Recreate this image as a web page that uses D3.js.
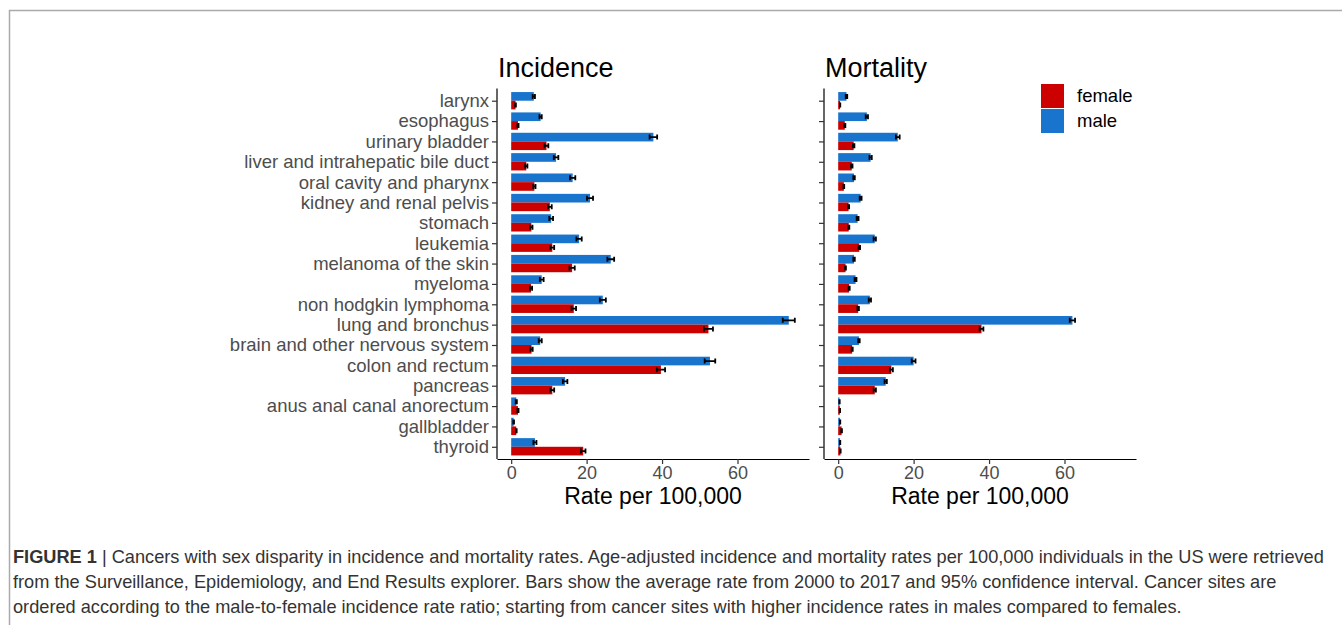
<!DOCTYPE html>
<html>
<head>
<meta charset="utf-8">
<script src="https://cdn.jsdelivr.net/npm/d3@7"></script>
<style>
  body { margin: 0; background: #fff; }
  svg { display: block; font-family: "Liberation Sans", Arial, sans-serif; }
</style>
</head>
<body>
<script>
// cancer sites, top to bottom
const sites = [
  'larynx', 'esophagus', 'urinary bladder', 'liver and intrahepatic bile duct',
  'oral cavity and pharynx', 'kidney and renal pelvis', 'stomach', 'leukemia',
  'melanoma of the skin', 'myeloma', 'non hodgkin lymphoma', 'lung and bronchus',
  'brain and other nervous system', 'colon and rectum', 'pancreas',
  'anus anal canal anorectum', 'gallbladder', 'thyroid'
];

// rates per 100,000 (average 2000-2017) and 95% CI half widths
const incMale = [6.0, 7.8, 37.7, 11.9, 16.3, 20.9, 10.6, 18.0, 26.4, 8.1, 24.3, 73.6, 7.7, 52.7, 14.3, 1.35, 0.65, 6.3];
const incMaleCi = [0.3, 0.3, 1.0, 0.6, 0.7, 0.8, 0.5, 0.7, 0.9, 0.5, 0.8, 1.6, 0.4, 1.4, 0.6, 0.15, 0.1, 0.4];
const incFemale = [1.15, 1.8, 9.35, 4.0, 6.15, 10.25, 5.35, 10.9, 16.15, 5.25, 16.6, 52.3, 5.4, 39.7, 10.9, 1.8, 1.35, 19.1];
const incFemaleCi = [0.1, 0.15, 0.5, 0.3, 0.3, 0.5, 0.3, 0.5, 0.7, 0.3, 0.6, 1.2, 0.3, 1.1, 0.5, 0.15, 0.1, 0.6];

const morMale = [2.2, 7.6, 15.8, 8.6, 4.2, 5.95, 5.15, 9.7, 4.2, 4.6, 8.4, 62.1, 5.5, 20.0, 12.6, 0.35, 0.5, 0.5];
const morMaleCi = [0.2, 0.3, 0.5, 0.3, 0.2, 0.25, 0.25, 0.3, 0.2, 0.25, 0.3, 0.7, 0.2, 0.5, 0.3, 0.05, 0.05, 0.05];
const morFemale = [0.5, 1.75, 4.1, 3.6, 1.5, 2.75, 2.8, 5.6, 1.95, 2.9, 5.3, 38.0, 3.7, 14.1, 9.7, 0.45, 0.9, 0.6];
const morFemaleCi = [0.05, 0.15, 0.2, 0.2, 0.1, 0.15, 0.15, 0.2, 0.1, 0.15, 0.2, 0.5, 0.15, 0.4, 0.3, 0.05, 0.1, 0.05];

const xTicks = [0, 20, 40, 60];
const sexes = ['female', 'male'];
const sexColor = { female: '#cd0000', male: '#1874cd' };

const panels = [
  { title: 'Incidence', left: 497, male: incMale, maleCi: incMaleCi, female: incFemale, femaleCi: incFemaleCi },
  { title: 'Mortality', left: 824, male: morMale, maleCi: morMaleCi, female: morFemale, femaleCi: morFemaleCi }
];

const W = 1342, H = 625;
const panelW = 312, plotTop = 88.5, plotBottom = 459;

const svg = d3.select('body').append('svg')
  .attr('width', W)
  .attr('height', H);

// frame
svg.append('path')
  .attr('d', `M9.5,${H} L9.5,10.5 L${W},10.5`)
  .attr('fill', 'none')
  .attr('stroke', '#aaa')
  .attr('stroke-width', 1.5);

// shared scales (ggplot facets with 5% / 0.6 expansion)
const maxVal = d3.max(panels, p => d3.max(p.male.map((v, i) => v + p.maleCi[i])));
const x = d3.scaleLinear().domain([-0.05 * maxVal, 1.05 * maxVal]).range([0, panelW]);
const y = d3.scalePoint().domain(sites).range([plotTop, plotBottom]).padding(0.6);
const barH = y.step() * 0.85 / 2;

panels.forEach(p => {
  const g = svg.append('g').attr('transform', `translate(${p.left},0)`);

  g.append('text')
    .attr('x', 1)
    .attr('y', 77)
    .attr('font-size', 27)
    .attr('fill', '#000')
    .text(p.title);

  sites.forEach((site, i) => {
    const rows = [
      { sex: 'male', v: p.male[i], ci: p.maleCi[i], y0: y(site) - barH },
      { sex: 'female', v: p.female[i], ci: p.femaleCi[i], y0: y(site) }
    ];
    rows.forEach(r => {
      g.append('rect')
        .attr('x', x(0))
        .attr('y', r.y0)
        .attr('width', x(r.v) - x(0))
        .attr('height', barH)
        .attr('fill', sexColor[r.sex]);
      const cy = r.y0 + barH / 2;
      const capH = 2.5;
      g.append('path')
        .attr('d', `M${x(r.v - r.ci)},${cy - capH}V${cy + capH}M${x(r.v - r.ci)},${cy}H${x(r.v + r.ci)}M${x(r.v + r.ci)},${cy - capH}V${cy + capH}`)
        .attr('fill', 'none')
        .attr('stroke', '#000')
        .attr('stroke-width', 1.8);
    });
  });

  // x axis
  const xa = g.append('g')
    .attr('transform', `translate(0,${plotBottom})`)
    .call(d3.axisBottom(x).tickValues(xTicks).tickSize(5).tickPadding(2).tickSizeOuter(0));
  xa.select('.domain').attr('stroke', '#000').attr('stroke-width', 1.2);
  xa.selectAll('.tick line').attr('stroke', '#333').attr('stroke-width', 1.2);
  xa.selectAll('.tick text')
    .attr('font-size', 18)
    .attr('font-family', '"Liberation Sans", Arial, sans-serif')
    .attr('fill', '#4d4d4d');

  // y axis
  const ya = g.append('g')
    .call(d3.axisLeft(y).tickSize(5).tickPadding(3).tickSizeOuter(0));
  ya.select('.domain').attr('stroke', '#000').attr('stroke-width', 1.2)
    .attr('d', `M0,${plotTop}V${plotBottom}`);
  ya.selectAll('.tick line').attr('stroke', '#333').attr('stroke-width', 1.2);
  ya.selectAll('.tick text')
    .attr('font-size', 18.5)
    .attr('font-family', '"Liberation Sans", Arial, sans-serif')
    .attr('fill', '#4d4d4d');
  if (p.title === 'Mortality') ya.selectAll('.tick text').remove();

  g.append('text')
    .attr('x', panelW / 2)
    .attr('y', 504)
    .attr('text-anchor', 'middle')
    .attr('font-size', 23)
    .attr('fill', '#000')
    .text('Rate per 100,000');
});

// legend
const lg = svg.append('g').attr('transform', 'translate(1041,84)');
sexes.forEach((s, i) => {
  lg.append('rect')
    .attr('x', 0)
    .attr('y', i * 25)
    .attr('width', 23)
    .attr('height', 24)
    .attr('fill', sexColor[s]);
  lg.append('text')
    .attr('x', 36)
    .attr('y', i * 25 + 12)
    .attr('dy', '0.35em')
    .attr('font-size', 18.5)
    .attr('fill', '#000')
    .text(s);
});

// caption
const captionLines = [
  ['FIGURE 1', ' | Cancers with sex disparity in incidence and mortality rates. Age-adjusted incidence and mortality rates per 100,000 individuals in the US were retrieved'],
  ['', 'from the Surveillance, Epidemiology, and End Results explorer. Bars show the average rate from 2000 to 2017 and 95% confidence interval. Cancer sites are'],
  ['', 'ordered according to the male-to-female incidence rate ratio; starting from cancer sites with higher incidence rates in males compared to females.']
];
captionLines.forEach((ln, i) => {
  const t = svg.append('text')
    .attr('x', 13)
    .attr('y', 563 + i * 25)
    .attr('font-size', 18.2)
    .attr('fill', '#333');
  if (ln[0]) t.append('tspan').attr('font-weight', 'bold').text(ln[0]);
  t.append('tspan').text(ln[1]);
});
</script>
</body>
</html>
